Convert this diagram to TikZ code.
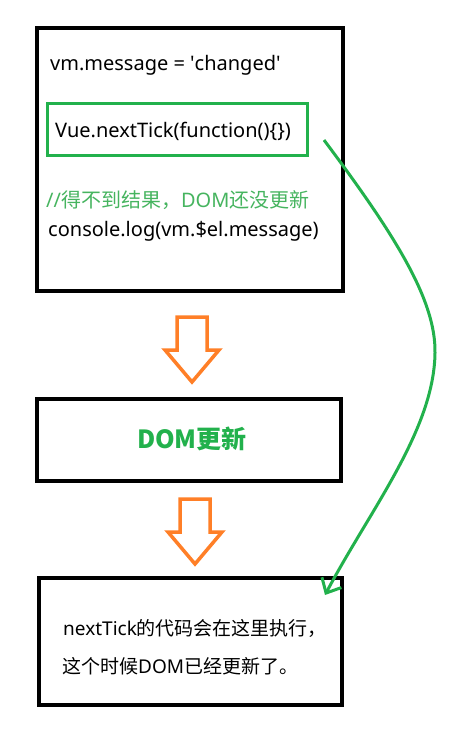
\documentclass[tikz,border=0pt]{standalone}
\usepackage{fontspec}
\setmainfont{Noto Sans}
\newfontfamily\cjk{Noto Sans CJK SC}
\usepackage{tikz}
\usetikzlibrary{arrows.meta,positioning}
\definecolor{paintgreen}{RGB}{34,177,76}
\definecolor{commentgreen}{RGB}{70,180,95}
\definecolor{paintorange}{RGB}{255,127,39}

\begin{document}
\begin{tikzpicture}[x=1pt, y=-1pt,
		box/.style={draw, line width=4pt, inner sep=0pt},
		tickBox/.style={draw=paintgreen, line width=3pt, inner sep=0pt},
		code/.style={anchor=base west, inner sep=0pt, font=\fontsize{20}{24}\selectfont},
		note/.style={anchor=base west, inner sep=0pt, font=\fontsize{19}{23}\selectfont},
		blockArrow/.style={draw=paintorange, line width=3.5pt, line join=miter},
		jump/.style={draw=paintgreen, line width=3pt, -{Straight Barb[length=12pt, width=22pt, line width=3pt]}}]
		
		\useasboundingbox (0,0) rectangle (452,737);
		
		% boxes
		\node [box, minimum width=306pt, minimum height=263pt] (sync) at (190, 159.5) {};
		\node [tickBox, minimum width=260pt, minimum height=52pt] (tick) at (177.5, 129.5) {};
		\node [box, minimum width=304pt, minimum height=82pt] (update) at (189, 440) {};
		\node [box, minimum width=303pt, minimum height=127pt] (final) at (190.5, 641.5) {};
		
		% code lines
		\node [code] (assign) at (50, 70) {vm.message = \textquotesingle changed\textquotesingle};
		\node [code] (call) at (55, 137) {Vue.nextTick(function()\{\})};
		\node [code, text=commentgreen] (comment) at (46, 207) {//{\cjk 得不到结果，}DOM{\cjk 还没更新}};
		\node [code] (log) at (48, 236) {console.log(vm.\$el.message)};
		
		\node [anchor=base, inner sep=0pt, text=paintgreen, font=\fontsize{25}{30}\selectfont\cjk\bfseries] (dom) at (192, 448) {DOM更新};
		
		\node [note] (run) at (63, 635) {nextTick{\cjk 的代码会在这里执行，}};
		\node [note] (done) at (62, 673) {{\cjk 这个时候}DOM{\cjk 已经更新了。}};
		
		% orange arrows
		\foreach \cx/\cy in {192/317, 195/499}
		{\draw [blockArrow, shift={(\cx,\cy)}] (-15,0) -- (15,0) -- (15,33) -- (27,33) -- (0,65) -- (-27,33) -- (-15,33) -- cycle;}
		
		% nextTick jump
		\coordinate (tickOut) at (324, 140);
		\coordinate (finalIn) at (325, 595);
		\draw [jump] (tickOut) .. controls (395, 235) and (436, 300) .. (435, 353)
			.. controls (434, 430) and (370, 510) .. (finalIn);
	\end{tikzpicture}
\end{document}
